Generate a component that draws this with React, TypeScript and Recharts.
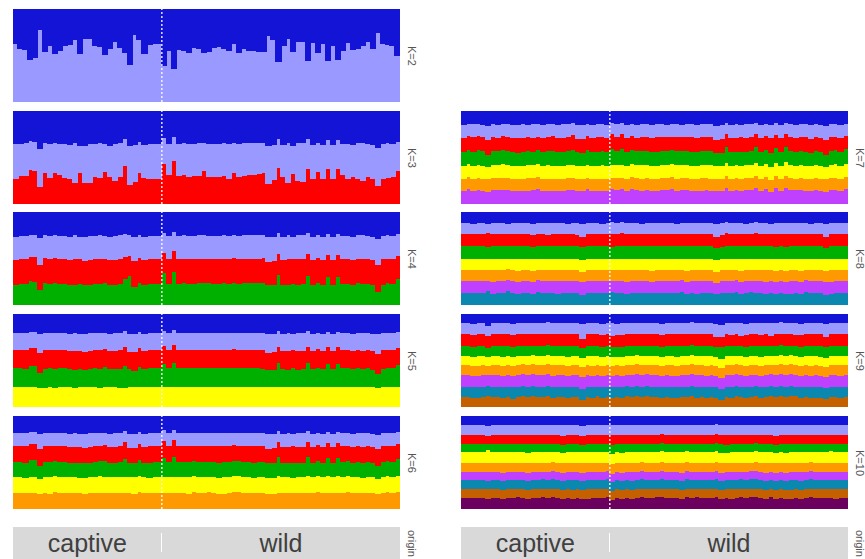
import { BarChart, Bar, XAxis, YAxis, ReferenceLine } from "recharts";

// 78 individuals: 30 captive, 48 wild. Values are membership percentages, top cluster first;
// the bottom cluster of every panel is what is left up to 100.
const CAPTIVE = 30;
const ORIGIN = ["captive", "wild"];

const PALETTE = ["#1414d6", "#9999ff", "#ff0000", "#00b000", "#ffff00", "#ff9900", "#bf40ff", "#0a88b0", "#c46000", "#6b005e"];

const K2_blue = [38,43,44,55,53,23,46,40,48,45, 40,39,33,48,32,32,40,41,49,43, 36,42,47,60,28,33,48,39,38,38, 61,45,65,44,45,47,42,43,47,46, 42,41,43,45,38,47,43,45,45,46, 46,29,33,57,40,32,46,35,35,56, 37,47,38,56,40,55,45,37,44,43, 40,36,43,26,38,39,40,51];

const K3_blue = [36,35,34,32,33,41,34,35,34,35, 36,37,34,38,38,36,36,34,36,38, 36,34,30,38,37,33,37,35,36,36, 29,35,28,35,34,35,35,34,34,35, 35,35,34,36,34,35,34,34,34,34, 34,38,37,30,37,34,38,34,34,30, 37,34,37,31,37,31,35,35,37,34, 34,35,37,40,35,34,35,33];
// red is the bottom cluster for K=3
const K3_red = [27,30,30,37,36,18,33,28,33,31, 28,27,23,33,23,23,29,28,34,29, 25,29,41,20,24,33,28,27,27,27, 43,31,46,30,31,29,30,30,35,29, 29,29,30,27,33,29,30,31,31,32, 33,22,26,39,29,23,32,25,24,38, 27,34,27,38,27,38,31,27,29,27, 25,29,27,19,27,28,29,35];

const K4_blue = [27,26,26,25,25,28,25,26,25,26, 26,27,25,27,27,26,26,25,26,27, 26,25,24,25,27,25,27,26,26,26, 23,26,22,26,25,26,26,25,25,26, 26,26,25,26,25,26,25,25,25,25, 25,27,27,23,27,25,27,25,25,23, 27,25,27,24,27,24,26,26,27,25, 25,26,27,29,26,25,26,24];
const K4_lightblue = [25,24,24,23,23,29,24,25,24,25, 25,25,26,24,26,26,25,25,24,25, 26,25,24,22,26,24,25,25,25,25, 21,25,20,25,25,25,25,25,25,24, 25,25,25,25,24,25,25,25,25,25, 24,27,26,22,25,26,24,26,26,22, 25,24,25,22,25,22,25,25,25,25, 26,25,25,28,25,25,25,23];
const K4_red = [26,27,27,26,27,27,27,26,27,26, 26,26,27,26,26,26,26,27,26,26, 26,27,24,22,28,27,26,26,26,26, 22,26,23,26,26,26,26,26,26,26, 26,26,26,26,27,26,26,26,26,26, 27,25,26,23,26,27,26,27,26,24, 26,27,26,24,26,24,26,26,26,26, 26,26,27,29,27,26,26,25];

const K5_blue = [20,20,20,19,19,21,20,20,20,20, 20,21,20,21,21,20,20,20,20,21, 20,20,18,21,21,19,21,20,20,20, 18,20,17,20,20,20,20,20,20,20, 20,20,20,20,20,20,20,20,20,20, 20,21,21,18,21,20,21,20,20,18, 21,20,21,19,21,19,20,20,21,20, 20,20,21,22,20,20,20,19];
const K5_lightblue = [19,19,19,18,18,21,19,19,19,19, 19,19,20,19,20,20,19,19,18,19, 20,19,17,20,20,18,19,19,19,19, 16,19,16,19,19,19,19,19,19,19, 19,19,19,19,18,19,19,19,19,19, 19,21,20,17,19,20,18,20,20,17, 19,18,19,17,19,17,19,19,19,19, 20,19,19,21,19,19,19,18];
const K5_red = [19,19,20,19,19,21,20,19,20,19, 19,19,20,19,19,19,19,20,19,19, 19,20,21,18,20,20,19,19,19,19, 20,19,20,19,19,19,19,19,19,19, 19,19,19,19,20,19,19,19,19,19, 20,18,19,18,19,20,19,20,19,18, 19,20,19,18,19,18,19,19,19,19, 19,19,20,21,20,19,19,18];
const K5_green = [21,21,20,23,23,17,21,21,21,21, 21,20,20,20,19,20,21,21,22,20, 20,21,24,20,18,22,20,21,21,21, 25,21,26,21,21,21,21,21,21,21, 21,21,21,21,21,21,21,21,21,21, 20,19,19,25,20,19,21,19,20,25, 20,21,20,24,20,24,21,21,20,21, 20,21,19,16,20,21,21,23];

const K6_blue = [18,18,18,17,17,19,18,18,18,18, 18,19,18,19,19,18,18,18,18,19, 18,18,16,19,19,17,19,18,18,18, 15,18,15,18,18,18,18,18,18,18, 18,18,18,18,18,18,18,18,18,18, 18,19,19,16,19,18,19,18,18,16, 19,18,19,17,19,17,18,18,19,18, 18,18,19,20,18,18,18,17];
const K6_lightblue = [14,14,14,13,13,16,14,14,14,14, 14,14,15,14,15,15,14,14,13,14, 15,14,12,15,15,13,14,14,14,14, 12,14,11,14,14,14,14,14,14,14, 14,14,14,14,13,14,14,14,14,14, 14,16,15,12,14,15,13,15,15,12, 14,13,14,12,14,12,14,14,14,14, 15,14,14,16,14,14,14,13];
const K6_red = [17,17,18,17,17,19,17,17,16,17, 17,17,17,18,17,17,17,16,17,17, 17,17,18,16,17,17,17,18,17,17, 18,17,18,17,17,17,16,17,17,17, 17,18,17,17,17,16,17,17,18,17, 17,16,17,16,17,17,18,17,17,16, 17,17,17,16,17,16,17,16,17,17, 18,17,17,18,17,16,17,16];
const K6_green = [17,17,17,19,19,14,17,17,17,17, 17,16,16,16,16,16,17,17,18,16, 16,17,20,16,15,18,16,17,17,17, 21,17,22,17,17,17,17,17,17,17, 17,17,17,17,17,17,17,17,17,17, 17,16,16,21,16,16,17,16,16,21, 16,17,16,20,16,20,17,17,16,17, 16,17,16,14,17,17,17,19];
const K6_yellow = [17,17,16,17,17,16,17,18,17,17, 17,17,17,16,17,17,17,18,17,17, 17,17,17,17,18,17,17,16,17,17, 17,17,17,17,17,18,17,17,17,16, 17,17,18,17,17,17,17,17,16,17, 17,17,17,18,17,17,16,17,17,18, 17,17,17,18,17,18,17,17,17,17, 16,17,17,16,17,17,17,17];

const K7_blue = [15,14,14,14,15,16,14,15,14,14, 15,15,14,15,14,14,15,14,14,15, 14,14,13,15,15,14,15,14,14,15, 13,14,13,15,14,15,14,14,15,14, 14,15,14,14,15,14,14,15,14,14, 14,16,15,13,15,14,15,14,14,13, 15,14,15,13,15,13,14,15,14,14, 15,14,15,16,14,14,15,14];
const K7_lightblue = [14,13,14,13,13,15,14,14,13,14, 14,14,15,13,15,14,14,14,13,14, 15,14,13,15,15,13,14,14,14,14, 12,14,12,14,13,14,14,14,14,14, 14,13,14,14,13,14,14,14,14,14, 14,15,15,12,14,15,13,15,14,12, 14,13,14,13,14,12,14,14,14,14, 15,14,14,15,14,14,14,13];
const K7_red = [15,15,16,15,15,16,15,14,15,15, 15,16,15,15,15,14,15,15,16,15, 15,15,16,14,15,15,15,16,15,15, 16,15,16,15,15,14,15,15,15,16, 15,15,14,15,15,15,16,15,15,15, 15,14,15,14,15,15,16,15,15,14, 15,15,16,14,15,14,15,15,15,16, 15,15,15,16,15,14,15,14];
const K7_green = [15,15,15,16,16,13,15,15,15,15, 15,14,15,15,14,15,15,15,16,15, 15,15,16,15,14,16,15,15,15,15, 17,15,17,15,15,15,15,15,15,15, 15,15,15,15,15,15,15,15,15,15, 15,14,14,17,15,14,15,14,15,17, 15,15,15,16,15,16,15,15,15,15, 14,15,15,13,15,15,15,16];
const K7_yellow = [14,14,14,14,14,13,14,14,15,14, 14,14,14,14,14,14,14,15,14,14, 14,14,14,14,14,14,14,14,15,14, 14,14,14,14,14,14,15,14,14,14, 14,14,14,15,14,14,14,14,14,14, 15,14,14,14,14,14,14,14,14,14, 14,14,14,14,14,15,14,14,14,14, 14,14,14,13,14,15,14,14];
const K7_orange = [13,13,13,13,13,14,13,13,13,13, 13,13,13,14,13,13,13,13,13,13, 13,13,13,13,13,12,13,13,13,13, 12,13,12,13,13,13,13,13,13,13, 13,13,13,13,13,13,13,13,14,13, 13,13,13,13,13,13,13,13,13,13, 13,13,13,13,13,13,13,12,13,13, 13,13,13,14,13,13,13,13];

const K8_blue = [12,12,13,12,12,13,12,12,12,13, 12,12,12,12,13,12,12,12,12,12, 12,13,12,12,13,12,12,12,13,12, 11,12,11,12,12,12,13,12,12,12, 12,12,12,13,12,12,12,12,12,12, 12,13,12,11,12,12,12,13,12,11, 12,12,13,12,12,12,12,12,12,12, 13,12,12,13,12,12,12,12];
const K8_lightblue = [12,12,11,12,12,10,12,12,12,11, 12,12,12,12,12,12,12,13,12,12, 12,11,12,13,14,12,12,12,11,12, 13,12,12,12,12,12,11,12,12,12, 12,12,12,11,12,12,12,12,12,12, 12,14,13,12,12,12,12,11,12,12, 12,12,11,12,12,12,12,12,12,12, 11,12,12,14,12,12,12,12];
const K8_red = [13,13,13,13,13,15,13,13,13,13, 13,13,13,13,13,13,13,12,13,13, 13,13,13,12,11,13,13,13,13,13, 14,13,14,13,13,13,13,13,13,13, 13,13,13,13,13,13,13,13,13,13, 13,12,13,14,13,13,13,13,13,14, 13,13,13,14,13,14,13,13,13,13, 13,13,13,12,13,13,13,13];
const K8_green = [13,13,13,13,13,12,13,13,13,13, 13,14,13,13,13,13,13,13,13,13, 13,13,13,13,14,13,13,14,13,13, 12,13,13,13,13,13,13,13,14,13, 13,13,13,13,13,14,13,13,13,13, 13,13,13,13,13,13,14,13,13,13, 13,13,13,13,13,13,13,13,14,13, 13,13,13,12,13,13,13,13];
const K8_yellow = [12,12,12,12,12,12,12,12,12,11, 12,12,12,12,12,12,12,12,12,12, 12,12,12,12,13,12,12,11,12,12, 12,12,12,12,12,12,12,12,12,12, 12,12,12,12,12,12,12,12,12,12, 12,12,11,12,12,12,12,12,12,12, 12,12,12,12,12,12,12,12,12,12, 12,12,12,12,12,12,12,12];
const K8_orange = [12,12,12,12,12,12,13,12,12,12, 12,12,12,12,12,11,12,12,12,12, 12,12,12,12,10,12,12,12,12,12, 12,12,12,13,12,12,12,12,12,12, 12,12,12,12,11,12,12,12,12,12, 12,12,12,12,12,11,12,12,12,12, 12,13,12,12,12,12,12,12,12,11, 12,12,12,12,13,12,12,12];
const K8_purple = [13,13,13,13,13,11,13,13,13,12, 13,13,13,13,13,13,13,13,13,14, 13,13,13,13,14,13,13,13,13,13, 12,13,13,13,13,13,13,13,12,13, 13,13,13,13,13,13,13,14,13,13, 13,12,13,13,13,13,13,13,12,13, 13,13,13,13,13,13,14,13,13,13, 13,13,13,14,13,13,13,13];

const K9_blue = [10,10,11,10,10,13,10,10,10,10, 11,10,10,10,10,10,10,9,10,10, 10,10,10,10,11,10,10,10,11,10, 10,11,10,10,10,10,10,10,10,10, 11,10,10,10,10,10,9,10,10,10, 10,11,12,10,10,10,10,11,10,10, 10,10,10,10,9,10,10,10,11,10, 10,10,10,11,10,10,10,10];
const K9_lightblue = [12,12,12,12,12,11,12,12,12,12, 12,12,12,12,12,12,12,12,12,12, 12,12,12,12,16,12,12,12,12,12, 14,12,13,12,12,12,12,12,12,12, 12,12,12,12,12,12,12,12,12,12, 12,14,13,11,13,12,14,12,12,11, 13,12,14,11,12,11,12,13,12,12, 12,12,12,14,12,12,12,12];
const K9_red = [12,12,12,12,12,13,12,12,12,12, 12,12,12,12,12,12,12,12,12,12, 12,12,12,12,10,12,12,12,12,12, 11,12,12,12,12,12,12,12,12,12, 12,12,12,12,12,12,12,12,12,12, 12,10,11,13,11,12,10,12,12,13, 11,12,10,13,12,13,12,11,12,12, 12,12,12,10,12,12,12,12];
const K9_green = [11,11,11,11,11,9,11,11,12,11, 11,11,11,11,10,11,11,11,11,11, 11,12,11,11,10,11,11,11,11,11, 11,11,11,11,11,10,11,11,11,11, 11,11,11,12,11,11,11,11,11,11, 11,11,12,11,11,11,11,11,11,11, 12,11,11,11,11,11,10,11,11,11, 11,11,12,12,11,11,11,11];
const K9_yellow = [10,10,10,11,10,10,10,10,10,10, 10,10,9,10,10,10,10,10,10,10, 10,10,10,10,10,10,11,10,10,10, 10,9,10,10,10,10,10,10,10,10, 10,10,10,10,10,10,10,10,10,11, 10,10,10,10,10,9,10,10,10,10, 10,10,10,10,10,10,10,10,10,10, 11,10,10,10,10,10,10,10];
const K9_orange = [11,11,11,11,11,10,11,11,11,11, 11,11,11,11,11,11,11,11,12,11, 11,11,11,11,11,11,11,11,11,11, 11,11,11,11,11,11,11,10,11,11, 11,11,12,11,11,11,11,11,11,11, 11,11,11,11,11,11,11,11,11,11, 11,11,10,11,11,11,11,11,11,11, 11,11,11,11,11,11,12,11];
const K9_purple = [12,12,12,12,12,11,12,12,12,12, 12,12,12,12,12,12,12,12,12,12, 12,12,12,12,13,12,12,12,12,12, 12,12,12,11,12,12,12,12,12,12, 12,12,12,12,12,12,12,12,12,12, 12,12,12,12,13,12,12,12,12,11, 12,12,12,12,12,12,12,12,12,12, 12,13,12,12,12,12,12,12];
const K9_teal = [11,11,11,11,11,11,11,11,11,11, 12,11,11,11,11,11,11,11,11,11, 11,11,11,11,11,11,11,10,11,11, 11,11,11,11,11,11,11,11,11,11, 11,11,11,11,11,11,11,12,11,11, 11,11,11,11,11,11,11,11,11,11, 11,11,11,11,11,11,11,10,11,11, 11,11,11,11,11,11,11,11];

const K10_blue = [10,10,10,10,10,11,10,10,10,10, 10,10,10,10,10,10,10,10,10,10, 10,10,10,10,11,10,10,10,10,10, 10,10,10,10,10,10,10,10,10,10, 10,10,10,10,10,10,10,10,10,10, 10,9,10,10,10,10,10,10,10,10, 10,10,10,10,10,10,10,10,10,10, 10,10,10,10,10,10,10,10];
const K10_lightblue = [10,10,10,10,10,10,10,10,10,10, 10,10,10,10,10,10,10,10,10,10, 11,10,10,10,10,10,10,10,10,10, 10,10,10,10,10,10,10,10,10,10, 9,10,10,10,10,10,10,10,10,10, 10,10,10,10,10,10,10,10,10,10, 10,10,10,11,10,10,10,10,10,10, 10,10,10,10,10,10,10,10];
const K10_red = [10,10,10,10,10,9,10,10,10,10, 10,10,10,10,10,10,10,10,10,10, 10,10,10,10,10,10,10,10,10,10, 11,10,10,10,10,10,10,10,10,10, 10,10,10,10,10,10,10,10,10,10, 10,10,10,11,10,10,10,10,10,9, 10,10,10,10,10,10,10,10,10,10, 10,10,10,10,10,10,10,10];
const K10_green = [9,9,9,9,9,7,9,9,9,9, 9,9,9,10,9,9,9,9,9,9, 9,9,9,9,8,9,9,9,9,9, 10,9,10,9,9,9,9,9,9,9, 9,9,9,9,9,8,9,9,9,9, 9,9,10,9,9,9,9,9,9,9, 9,9,9,9,9,10,9,9,9,9, 9,9,9,9,8,9,9,9];
const K10_yellow = [11,11,11,11,11,13,11,11,11,11, 11,11,11,11,11,11,11,11,10,11, 11,11,11,11,12,11,11,11,11,11, 11,11,11,11,11,11,10,11,11,11, 11,11,11,11,11,11,11,11,11,11, 11,11,11,10,11,11,11,11,11,11, 11,12,11,11,11,11,11,11,11,11, 10,11,11,11,12,11,11,11];
const K10_orange = [10,10,10,10,10,10,10,10,11,10, 10,10,10,10,10,10,10,10,10,10, 10,10,10,10,10,10,10,10,10,9, 10,10,10,10,10,10,10,10,10,10, 10,10,10,10,11,10,10,10,10,10, 10,10,10,10,10,10,10,10,9,10, 10,10,10,10,10,10,10,10,10,10, 10,10,10,10,10,10,10,10];
const K10_purple = [9,9,9,9,9,10,9,9,9,9, 9,9,9,9,9,9,8,9,9,9, 9,9,9,9,9,9,9,9,9,9, 9,9,9,9,10,9,9,9,9,9, 9,9,9,9,9,9,9,9,9,9, 9,9,9,9,9,9,8,9,9,9, 9,9,9,9,9,9,9,9,10,9, 9,9,9,9,9,9,9,9];
const K10_teal = [10,10,10,10,10,9,10,10,10,10, 10,10,10,10,10,10,10,10,10,10, 10,10,11,10,10,10,10,10,10,10, 10,10,10,10,10,10,10,10,10,10, 10,10,10,10,10,10,10,9,10,10, 10,10,10,10,10,10,10,10,10,10, 10,10,10,10,10,10,11,10,10,10, 10,10,10,10,10,10,10,10];
const K10_brown = [9,9,9,9,9,10,9,9,9,9, 9,8,9,9,9,9,9,9,9,9, 9,9,9,9,9,10,9,9,9,9, 9,9,9,9,9,9,9,9,9,8, 9,9,9,9,9,9,9,9,9,9, 9,9,9,9,10,9,9,9,9,9, 9,9,8,9,9,9,9,9,9,9, 9,9,9,9,9,10,9,9];

// K=3: blue on top, red at the bottom, light blue in between
const K3_lightblue = K3_blue.map((b, i) => 100 - b - K3_red[i]);

const PANELS = [
  { label: "K=2", col: 0, row: 0, cols: [K2_blue] },
  { label: "K=3", col: 0, row: 1, cols: [K3_blue, K3_lightblue] },
  { label: "K=4", col: 0, row: 2, cols: [K4_blue, K4_lightblue, K4_red] },
  { label: "K=5", col: 0, row: 3, cols: [K5_blue, K5_lightblue, K5_red, K5_green] },
  { label: "K=6", col: 0, row: 4, cols: [K6_blue, K6_lightblue, K6_red, K6_green, K6_yellow] },
  { label: "K=7", col: 1, row: 1, cols: [K7_blue, K7_lightblue, K7_red, K7_green, K7_yellow, K7_orange] },
  { label: "K=8", col: 1, row: 2, cols: [K8_blue, K8_lightblue, K8_red, K8_green, K8_yellow, K8_orange, K8_purple] },
  { label: "K=9", col: 1, row: 3, cols: [K9_blue, K9_lightblue, K9_red, K9_green, K9_yellow, K9_orange, K9_purple, K9_teal] },
  { label: "K=10", col: 1, row: 4, cols: [K10_blue, K10_lightblue, K10_red, K10_green, K10_yellow, K10_orange, K10_purple, K10_teal, K10_brown] },
];

const W = 387;
const H = 93;
const LEFTS = [13, 461];
const TOPS = [9, 111, 212, 314, 416];
const FONT = "'Liberation Sans', Arial, sans-serif";

function makeRows(cols: number[][]) {
  const n = cols[0].length;
  const rows: Record<string, number>[] = [];
  for (let i = 0; i < n; i++) {
    const row: Record<string, number> = { i };
    let sum = 0;
    cols.forEach((c, j) => {
      row[`c${j}`] = c[i];
      sum += c[i];
    });
    row[`c${cols.length}`] = 100 - sum;
    rows.push(row);
  }
  return rows;
}

// recharts rounds bar widths down to whole pixels; widen each block so neighbours touch
const Block = (props: any) => {
  const { x, y, width, height, fill } = props;
  if (!height || height <= 0) return null;
  return <rect x={x - 0.6} y={y} width={width + 1.2} height={height} fill={fill} shapeRendering="crispEdges" />;
};

function SideLabel({ text, left, top, height }: any) {
  return (
    <div
      style={{
        position: "absolute",
        left,
        top,
        height,
        width: 14,
        display: "flex",
        alignItems: "center",
        justifyContent: "center",
        writingMode: "vertical-rl",
        fontFamily: FONT,
        fontSize: 11,
        color: "#555",
      }}
    >
      {text}
    </div>
  );
}

function Panel({ label, col, row, cols }: any) {
  const k = cols.length + 1;
  const rows = makeRows(cols);
  // stack from the bottom cluster up
  const order = Array.from({ length: k }, (_, j) => k - 1 - j);
  const left = LEFTS[col];
  const top = TOPS[row];
  return (
    <>
      <div style={{ position: "absolute", left, top }}>
        <BarChart width={W} height={H} data={rows} margin={{ top: 0, right: 0, bottom: 0, left: 0 }} barCategoryGap={0} barGap={0}>
          <XAxis dataKey="i" hide />
          <YAxis hide type="number" domain={[0, 100]} allowDataOverflow />
          {order.map((j) => (
            <Bar key={j} dataKey={`c${j}`} stackId="q" fill={PALETTE[j]} shape={<Block />} isAnimationActive={false} />
          ))}
          <ReferenceLine x={CAPTIVE} position="start" stroke="#ffffff" strokeWidth={1.3} strokeDasharray="2 2" />
        </BarChart>
      </div>
      <SideLabel text={label} left={left + W + 5} top={top} height={H} />
    </>
  );
}

function OriginStrip({ left }: any) {
  const split = (CAPTIVE / K2_blue.length) * W;
  const text = {
    position: "absolute" as const,
    top: 0,
    height: 32,
    display: "flex",
    alignItems: "center",
    justifyContent: "center",
    fontFamily: FONT,
    fontSize: 25,
    color: "#404040",
  };
  return (
    <>
      <div style={{ position: "absolute", left, top: 527, width: W, height: 32, background: "#d9d9d9" }}>
        <div style={{ ...text, left: 0, width: split }}>{ORIGIN[0]}</div>
        <div style={{ ...text, left: split, width: W - split }}>{ORIGIN[1]}</div>
        <div style={{ position: "absolute", left: split - 1, top: 6, width: 1.5, height: 19, background: "#ffffff" }} />
      </div>
      <SideLabel text="origin" left={left + W + 5} top={527} height={32} />
    </>
  );
}

export default function App() {
  return (
    <div style={{ position: "absolute", left: 0, top: 0, width: 865, height: 559, background: "#fff", overflow: "hidden" }}>
      {PANELS.map((p) => (
        <Panel key={p.label} {...p} />
      ))}
      <OriginStrip left={LEFTS[0]} />
      <OriginStrip left={LEFTS[1]} />
    </div>
  );
}
